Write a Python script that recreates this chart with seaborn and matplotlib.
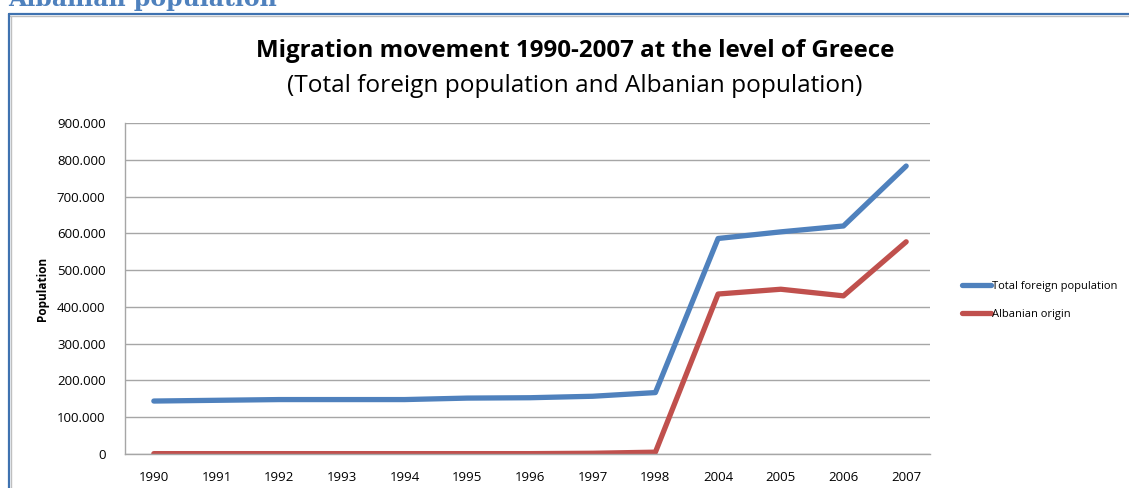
import matplotlib
matplotlib.use("Agg")
import matplotlib.pyplot as plt
import seaborn as sns
import pandas as pd
from matplotlib.lines import Line2D
from matplotlib.ticker import FuncFormatter, MultipleLocator

years = ["1990", "1991", "1992", "1993", "1994", "1995", "1996", "1997", "1998",
         "2004", "2005", "2006", "2007"]
total_foreign = [144000, 146000, 148000, 148000, 148000, 152000, 153000, 157000, 167000,
                 586000, 604000, 620000, 783000]
albanian = [1000, 1000, 1000, 1000, 1000, 1000, 1000, 2000, 5000,
            435000, 448000, 430000, 577000]
series_names = ["Total foreign population", "Albanian origin"]

df = pd.DataFrame({
    "Year": years * 2,
    "Population": total_foreign + albanian,
    "Series": [series_names[0]] * len(years) + [series_names[1]] * len(years),
})

sns.set_theme(style="white")
plt.rcParams["font.family"] = ["Open Sans", "DejaVu Sans"]
plt.rcParams["text.color"] = "black"
plt.rcParams["axes.labelcolor"] = "black"

fig = plt.figure(figsize=(11.29, 4.88), dpi=100)
ax = fig.add_axes([125 / 1129, 1 - 454 / 488, (930 - 125) / 1129, (454 - 123) / 488])

palette = {series_names[0]: "#4F81BD", series_names[1]: "#C0504D"}
sns.lineplot(data=df, x="Year", y="Population", hue="Series", palette=palette,
             linewidth=3.8, sort=False, ax=ax, legend=False,
             solid_capstyle="round", solid_joinstyle="round")

ax.set_xlim(-0.46, 12.38)
ax.set_ylim(0, 900000)
ax.yaxis.set_major_locator(MultipleLocator(100000))
ax.yaxis.set_major_formatter(FuncFormatter(lambda v, p: "0" if v == 0 else f"{int(v):,}".replace(",", ".")))
ax.grid(axis="y", color="#a6a6a6", linewidth=1.0)
ax.set_axisbelow(True)
for s in ["top", "right"]:
    ax.spines[s].set_visible(False)
for s in ["left", "bottom"]:
    ax.spines[s].set_color("#a6a6a6")
    ax.spines[s].set_linewidth(1.0)
ax.tick_params(axis="both", length=0, labelsize=9.5, colors="#000000")
ax.tick_params(axis="y", pad=14)
ax.tick_params(axis="x", pad=12)
ax.set_xlabel("")
ax.set_ylabel("Population", fontsize=8.5, fontweight="bold", labelpad=6)

handles = [Line2D([0], [0], color=palette[n], linewidth=3.8, solid_capstyle="round") for n in series_names]
leg = fig.legend(handles, series_names, loc="upper left", bbox_to_anchor=(952 / 1129, 1 - 271 / 488),
                 frameon=False, fontsize=8, handlelength=2.6, handletextpad=0.1,
                 labelspacing=1.55)

fig.text(575 / 1129, 1 - 51 / 488, "Migration movement 1990-2007 at the level of Greece",
         ha="center", va="center", fontsize=17.4, fontweight="bold")
fig.text(575 / 1129, 1 - 86 / 488, "(Total foreign population and Albanian population)",
         ha="center", va="center", fontsize=17.6)

# document heading (partially cut off at top) and frame
fig.text(8 / 1129, 1 + 1 / 488, "Albanian population", ha="left", va="center",
         fontsize=17, fontweight="bold", color="#4F81BD", family=["DejaVu Serif"])
fig.add_artist(Line2D([9 / 1129, 1], [1 - 14 / 488, 1 - 14 / 488], color="#3f72b0", linewidth=1.6))
fig.add_artist(Line2D([9 / 1129, 1], [1 - 16 / 488, 1 - 16 / 488], color="#bfbfbf", linewidth=1.0))
fig.add_artist(Line2D([9 / 1129, 9 / 1129], [0, 1 - 14 / 488], color="#3f72b0", linewidth=1.6))
fig.add_artist(Line2D([11 / 1129, 11 / 1129], [0, 1 - 16 / 488], color="#bfbfbf", linewidth=1.0))

fig.savefig("out.png", dpi=100)
